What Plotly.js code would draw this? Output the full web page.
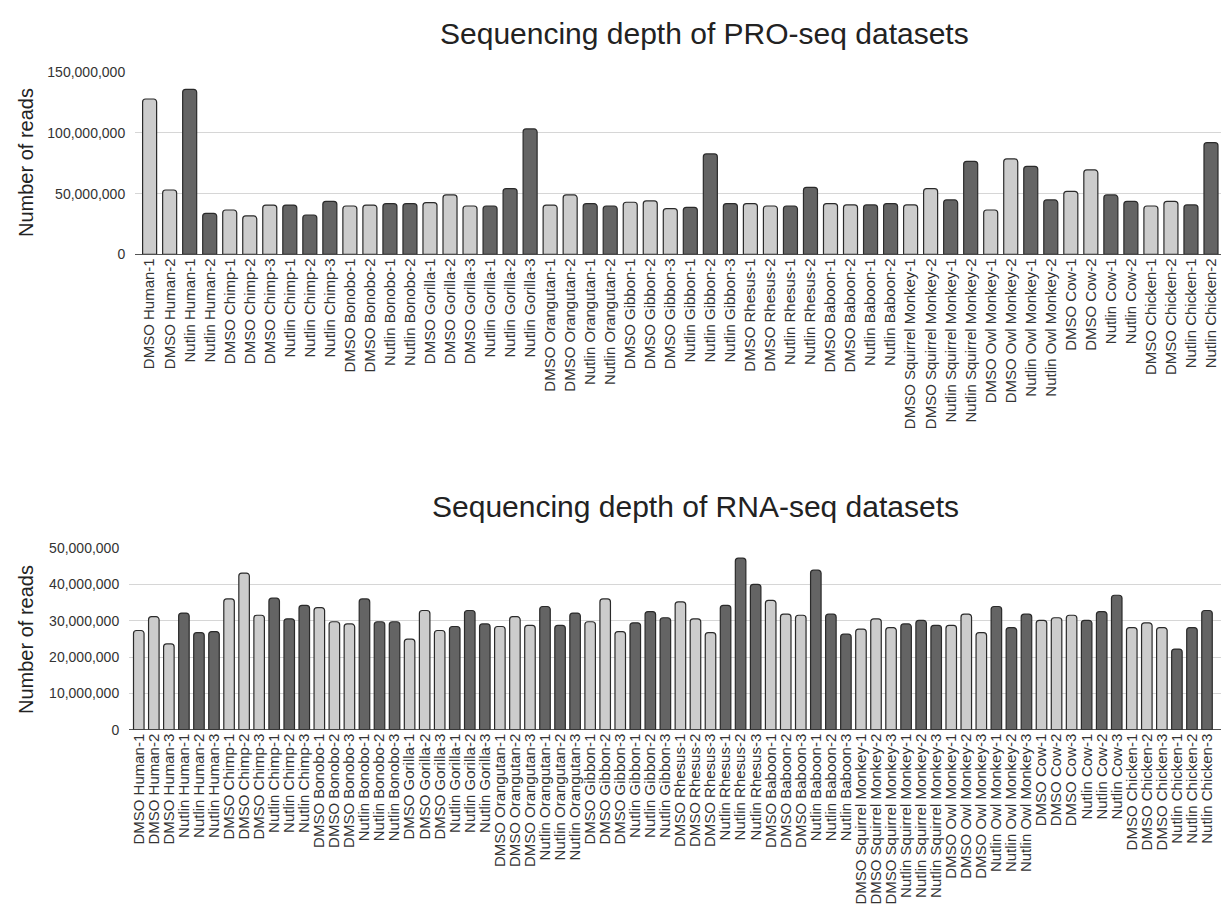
<!DOCTYPE html>
<html>
<head>
<meta charset="utf-8">
<script src="https://cdn.plot.ly/plotly-3.0.1.min.js"></script>
<style>html,body{margin:0;padding:0;background:#fff;}#chart{width:1221px;height:907px;}</style>
</head>
<body>
<div id="chart"></div>
<script>
// ---- PRO-seq data ----
const proSamples = [
  "DMSO Human-1","DMSO Human-2","Nutlin Human-1","Nutlin Human-2",
  "DMSO Chimp-1","DMSO Chimp-2","DMSO Chimp-3","Nutlin Chimp-1","Nutlin Chimp-2","Nutlin Chimp-3",
  "DMSO Bonobo-1","DMSO Bonobo-2","Nutlin Bonobo-1","Nutlin Bonobo-2",
  "DMSO Gorilla-1","DMSO Gorilla-2","DMSO Gorilla-3","Nutlin Gorilla-1","Nutlin Gorilla-2","Nutlin Gorilla-3",
  "DMSO Orangutan-1","DMSO Orangutan-2","Nutlin Orangutan-1","Nutlin Orangutan-2",
  "DMSO Gibbon-1","DMSO Gibbon-2","DMSO Gibbon-3","Nutlin Gibbon-1","Nutlin Gibbon-2","Nutlin Gibbon-3",
  "DMSO Rhesus-1","DMSO Rhesus-2","Nutlin Rhesus-1","Nutlin Rhesus-2",
  "DMSO Baboon-1","DMSO Baboon-2","Nutlin Baboon-1","Nutlin Baboon-2",
  "DMSO Squirrel Monkey-1","DMSO Squirrel Monkey-2","Nutlin Squirrel Monkey-1","Nutlin Squirrel Monkey-2",
  "DMSO Owl Monkey-1","DMSO Owl Monkey-2","Nutlin Owl Monkey-1","Nutlin Owl Monkey-2",
  "DMSO Cow-1","DMSO Cow-2","Nutlin Cow-1","Nutlin Cow-2",
  "DMSO Chicken-1","DMSO Chicken-2","Nutlin Chicken-1","Nutlin Chicken-2"
];
const proReads = [
  128000000, 53000000, 136000000, 33800000,
  36500000, 31600000, 40600000, 40600000, 32400000, 43700000,
  39800000, 40600000, 41700000, 41700000,
  42600000, 48900000, 39800000, 39800000, 54100000, 103300000,
  40600000, 48900000, 41700000, 39800000,
  42900000, 44000000, 37600000, 38700000, 82700000, 41800000,
  41800000, 39800000, 39800000, 55200000,
  41800000, 40700000, 40700000, 41800000,
  40700000, 54100000, 44800000, 76600000,
  36500000, 78600000, 72500000, 44800000,
  51900000, 69500000, 48900000, 43700000,
  39800000, 43700000, 40700000, 92000000
];
const proTicks = [0, 50000000, 100000000, 150000000];

// ---- RNA-seq data ----
const rnaSamples = [
  "DMSO Human-1","DMSO Human-2","DMSO Human-3","Nutlin Human-1","Nutlin Human-2","Nutlin Human-3",
  "DMSO Chimp-1","DMSO Chimp-2","DMSO Chimp-3","Nutlin Chimp-1","Nutlin Chimp-2","Nutlin Chimp-3",
  "DMSO Bonobo-1","DMSO Bonobo-2","DMSO Bonobo-3","Nutlin Bonobo-1","Nutlin Bonobo-2","Nutlin Bonobo-3",
  "DMSO Gorilla-1","DMSO Gorilla-2","DMSO Gorilla-3","Nutlin Gorilla-1","Nutlin Gorilla-2","Nutlin Gorilla-3",
  "DMSO Orangutan-1","DMSO Orangutan-2","DMSO Orangutan-3","Nutlin Orangutan-1","Nutlin Orangutan-2","Nutlin Orangutan-3",
  "DMSO Gibbon-1","DMSO Gibbon-2","DMSO Gibbon-3","Nutlin Gibbon-1","Nutlin Gibbon-2","Nutlin Gibbon-3",
  "DMSO Rhesus-1","DMSO Rhesus-2","DMSO Rhesus-3","Nutlin Rhesus-1","Nutlin Rhesus-2","Nutlin Rhesus-3",
  "DMSO Baboon-1","DMSO Baboon-2","DMSO Baboon-3","Nutlin Baboon-1","Nutlin Baboon-2","Nutlin Baboon-3",
  "DMSO Squirrel Monkey-1","DMSO Squirrel Monkey-2","DMSO Squirrel Monkey-3","Nutlin Squirrel Monkey-1","Nutlin Squirrel Monkey-2","Nutlin Squirrel Monkey-3",
  "DMSO Owl Monkey-1","DMSO Owl Monkey-2","DMSO Owl Monkey-3","Nutlin Owl Monkey-1","Nutlin Owl Monkey-2","Nutlin Owl Monkey-3",
  "DMSO Cow-1","DMSO Cow-2","DMSO Cow-3","Nutlin Cow-1","Nutlin Cow-2","Nutlin Cow-3",
  "DMSO Chicken-1","DMSO Chicken-2","DMSO Chicken-3","Nutlin Chicken-1","Nutlin Chicken-2","Nutlin Chicken-3"
];
const rnaReads = [
  27300000, 31100000, 23600000, 32100000, 26700000, 27000000,
  36000000, 43100000, 31500000, 36200000, 30500000, 34200000,
  33600000, 29700000, 29100000, 36000000, 29700000, 29700000,
  24900000, 32800000, 27300000, 28400000, 32800000, 29100000,
  28400000, 31100000, 28700000, 33900000, 28700000, 32100000,
  29700000, 36000000, 27000000, 29400000, 32500000, 30800000,
  35200000, 30500000, 26700000, 34200000, 47200000, 40000000,
  35600000, 31800000, 31500000, 43900000, 31800000, 26300000,
  27700000, 30500000, 28100000, 29100000, 30100000, 28700000,
  28700000, 31800000, 26700000, 33900000, 28100000, 31800000,
  30100000, 30800000, 31500000, 30100000, 32500000, 37000000,
  28100000, 29400000, 28100000, 22200000, 28100000, 32800000
];
const rnaTicks = [0, 10000000, 20000000, 30000000, 40000000, 50000000];

const titles = ["Sequencing depth of PRO-seq datasets", "Sequencing depth of RNA-seq datasets"];
const yTitle = "Number of reads";

// ---- styling ----
const LIGHT = "#cccccc", DARK = "#646464";
const colorFor = s => s.startsWith("Nutlin") ? DARK : LIGHT;
const FONT = "Liberation Sans, Arial, sans-serif";
const W = 1221, H = 907;

const traces = [
  {type:"bar", x: proSamples, y: proReads, xaxis:"x", yaxis:"y",
   marker:{color: proSamples.map(colorFor), line:{color:"#2a2a2a", width:1.2}},
   hoverinfo:"x+y"},
  {type:"bar", x: rnaSamples, y: rnaReads, xaxis:"x2", yaxis:"y2",
   marker:{color: rnaSamples.map(colorFor), line:{color:"#2a2a2a", width:1.2}},
   hoverinfo:"x+y"}
];

const xCommon = {type:"category", tickangle:-90, showgrid:false, showline:false, ticks:"", zeroline:false,
  tickfont:{family:FONT, size:15, color:"#333"}};
const yCommon = {showgrid:true, gridcolor:"#d6d6d6", gridwidth:1, zeroline:true, zerolinecolor:"#555", zerolinewidth:1.5,
  tickformat:",d", ticks:"outside", ticklen:6, tickcolor:"rgba(0,0,0,0)", showline:false,
  tickfont:{family:FONT, size:14, color:"#333"}};

const layout = {
  width: W, height: H,
  margin:{l:0, r:0, t:0, b:0},
  paper_bgcolor:"#fff", plot_bgcolor:"#fff",
  showlegend:false, bargap:0.3, barcornerradius:3,
  font:{family:FONT, color:"#222"},
  xaxis: Object.assign({}, xCommon, {domain:[135/W, 1], range:[-0.73, 53.5], anchor:"y",
    tickmode:"array", tickvals: proSamples, ticktext: proSamples}),
  yaxis: Object.assign({}, yCommon, {domain:[1-254.3/H, 1-72.3/H], range:[0, 150000000], tickvals: proTicks, anchor:"x"}),
  xaxis2: Object.assign({}, xCommon, {domain:[129/W, 1], range:[-0.65, 71.93], anchor:"y2",
    tickmode:"array", tickvals: rnaSamples, ticktext: rnaSamples}),
  yaxis2: Object.assign({}, yCommon, {domain:[1-729.7/H, 1-548/H], range:[0, 50000000], tickvals: rnaTicks, anchor:"x2"}),
  annotations:[
    {text: titles[0], xref:"paper", yref:"paper", x:705/W, y:1-33/H, xanchor:"center", yanchor:"middle",
     showarrow:false, font:{family:FONT, size:30, color:"#222"}},
    {text: titles[1], xref:"paper", yref:"paper", x:695/W, y:1-506/H, xanchor:"center", yanchor:"middle",
     showarrow:false, font:{family:FONT, size:30, color:"#222"}},
    {text: yTitle, xref:"paper", yref:"paper", x:26/W, y:1-163/H, xanchor:"center", yanchor:"middle",
     textangle:-90, showarrow:false, font:{family:FONT, size:20, color:"#222"}},
    {text: yTitle, xref:"paper", yref:"paper", x:26/W, y:1-640/H, xanchor:"center", yanchor:"middle",
     textangle:-90, showarrow:false, font:{family:FONT, size:20, color:"#222"}}
  ]
};

Plotly.newPlot("chart", traces, layout, {displayModeBar:false, staticPlot:true});
</script>
</body>
</html>
